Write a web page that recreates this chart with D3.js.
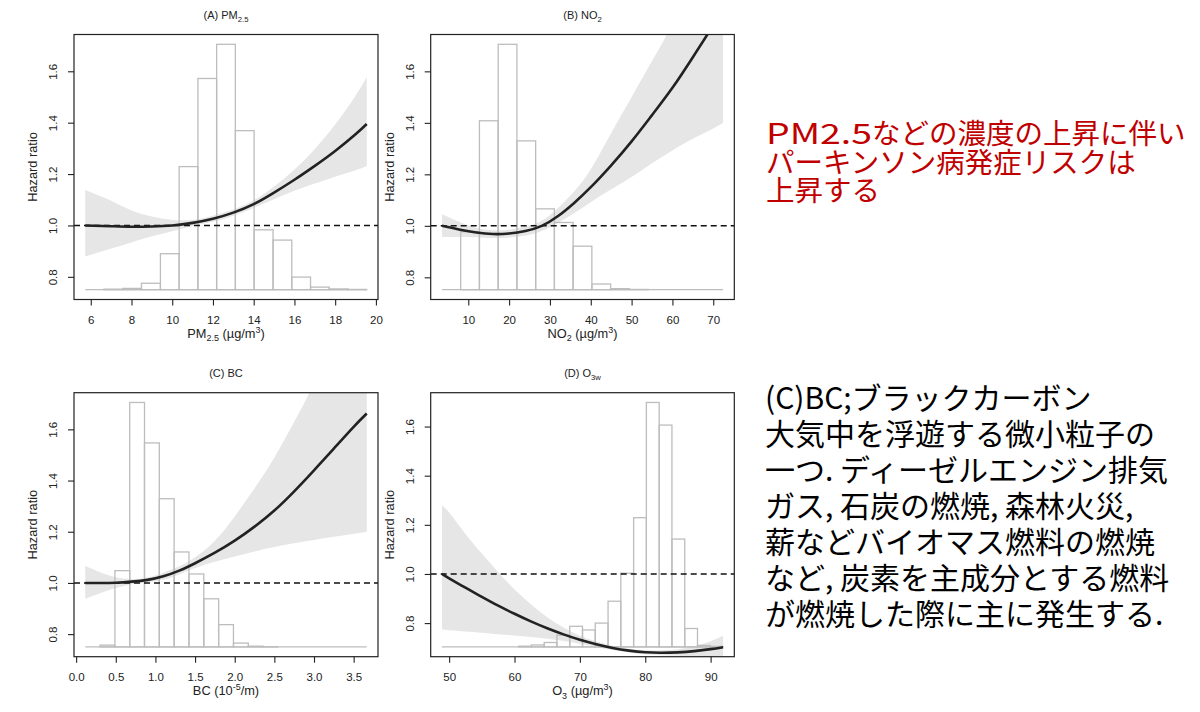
<!DOCTYPE html>
<html>
<head>
<meta charset="utf-8">
<script src="https://cdn.jsdelivr.net/npm/d3@7"></script>
<style>
  body { margin: 0; background: #fff; }
  svg { display: block; }
</style>
</head>
<body>
<svg id="chart" width="1200" height="712"></svg>
<script>
// ---- data ----
const yTicks = [0.8, 1.0, 1.2, 1.4, 1.6];

// (A) PM2.5
const pmX  = [5.73, 7, 8, 9, 10, 11, 12, 13, 14, 15, 16, 17, 18, 19, 19.55];
const pmHr = [1.0, 0.997, 0.995, 0.996, 1.0, 1.01, 1.026, 1.05, 1.083, 1.128, 1.178, 1.232, 1.29, 1.355, 1.395];
const pmLo = [0.879, 0.91, 0.934, 0.958, 0.977, 0.998, 1.014, 1.038, 1.068, 1.102, 1.135, 1.163, 1.19, 1.215, 1.23];
const pmHi = [1.138, 1.096, 1.058, 1.035, 1.022, 1.022, 1.038, 1.062, 1.098, 1.152, 1.218, 1.298, 1.393, 1.505, 1.578];
const pmBreaks = [5.73, 6.65, 7.57, 8.49, 9.42, 10.34, 11.26, 12.18, 13.1, 14.02, 14.95, 15.87, 16.79, 17.71, 18.63, 19.55];
const pmHist = [0.75, 0.752, 0.755, 0.775, 0.89, 1.229, 1.572, 1.705, 1.369, 0.983, 0.943, 0.799, 0.76, 0.753, 0.751];
const pmTicks = [6, 8, 10, 12, 14, 16, 18, 20];

// (B) NO2
const noX  = [3.55, 8, 12, 16, 20, 24, 28, 32, 36, 40, 45, 50, 55, 60, 65, 70, 72.4];
const noHr = [1.0, 0.985, 0.974, 0.968, 0.97, 0.98, 1.0, 1.038, 1.09, 1.15, 1.235, 1.328, 1.43, 1.536, 1.655, 1.78, 1.85];
const noLo = [0.957, 0.957, 0.956, 0.953, 0.955, 0.962, 0.98, 1.012, 1.05, 1.092, 1.142, 1.19, 1.243, 1.293, 1.338, 1.378, 1.4];
const noHi = [1.045, 1.014, 0.992, 0.983, 0.985, 0.998, 1.02, 1.069, 1.135, 1.22, 1.36, 1.5, 1.64, 1.79, 2.02, 2.28, 2.44];
const noBreaks = [3.55, 8.14, 12.73, 17.32, 21.91, 26.5, 31.09, 35.68, 40.27, 44.86, 49.45, 54.04, 58.63, 63.22, 67.81, 72.4];
const noHist = [0.752, 0.977, 1.408, 1.705, 1.33, 1.066, 1.013, 0.921, 0.774, 0.756, 0.753, 0.752, 0.752, 0.752, 0.752];
const noTicks = [10, 20, 30, 40, 50, 60, 70];

// (C) BC
const bcX  = [0.115, 0.3, 0.5, 0.7, 0.9, 1.1, 1.3, 1.5, 1.75, 2.0, 2.25, 2.5, 2.75, 3.0, 3.25, 3.5, 3.665];
const bcHr = [1.0, 1.0, 1.001, 1.005, 1.012, 1.026, 1.048, 1.077, 1.118, 1.165, 1.22, 1.283, 1.358, 1.44, 1.525, 1.61, 1.662];
const bcLo = [0.938, 0.96, 0.98, 0.995, 1.003, 1.012, 1.033, 1.058, 1.083, 1.103, 1.123, 1.14, 1.155, 1.168, 1.18, 1.192, 1.2];
const bcHi = [1.066, 1.042, 1.022, 1.015, 1.021, 1.04, 1.065, 1.1, 1.165, 1.26, 1.37, 1.49, 1.63, 1.78, 1.97, 2.17, 2.3];
const bcBreaks = [0.115, 0.302, 0.489, 0.676, 0.862, 1.049, 1.236, 1.423, 1.61, 1.797, 1.984, 2.171, 2.358, 2.545, 2.731, 2.918, 3.105, 3.292, 3.478, 3.665];
const bcHist = [0.75, 0.757, 1.048, 1.705, 1.547, 1.329, 1.121, 1.035, 0.938, 0.837, 0.765, 0.753, 0.751, 0.75, 0.75, 0.75, 0.75, 0.75, 0.75];
const bcTicks = [0, 0.5, 1.0, 1.5, 2.0, 2.5, 3.0, 3.5];

// (D) O3w
const o3X  = [48.9, 50, 52.5, 55, 57.5, 60, 62.5, 65, 67.5, 70, 72.5, 75, 77.5, 80, 82.5, 85, 87.5, 90, 91.9];
const o3Hr = [1.0, 0.982, 0.944, 0.907, 0.871, 0.838, 0.807, 0.779, 0.754, 0.732, 0.714, 0.699, 0.688, 0.681, 0.679, 0.681, 0.686, 0.694, 0.702];
const o3Lo = [0.775, 0.771, 0.766, 0.761, 0.755, 0.749, 0.743, 0.736, 0.727, 0.716, 0.703, 0.69, 0.68, 0.673, 0.669, 0.667, 0.665, 0.662, 0.659];
const o3Hi = [1.28, 1.25, 1.163, 1.083, 1.007, 0.937, 0.877, 0.824, 0.782, 0.748, 0.725, 0.708, 0.696, 0.69, 0.689, 0.694, 0.706, 0.726, 0.748];
const o3Breaks = [48.9, 50.85, 52.81, 54.76, 56.72, 58.67, 60.63, 62.58, 64.54, 66.49, 68.45, 70.4, 72.35, 74.31, 76.26, 78.22, 80.17, 82.13, 84.08, 86.04, 87.99, 89.95, 91.9];
const o3Hist = [0.703, 0.703, 0.703, 0.703, 0.703, 0.703, 0.706, 0.711, 0.721, 0.751, 0.787, 0.772, 0.80, 0.889, 1.003, 1.229, 1.698, 1.606, 1.142, 0.778, 0.709, 0.705];
const o3Ticks = [50, 60, 70, 80, 90];

// right-hand notes
const redLead = "PM2.5";
const redLines = ["などの濃度の上昇に伴い", "パーキンソン病発症リスクは", "上昇する"];
const blackLines = [
  "(C)BC;ブラックカーボン",
  "大気中を浮遊する微小粒子の",
  "一つ. ディーゼルエンジン排気",
  "ガス, 石炭の燃焼, 森林火災,",
  "薪などバイオマス燃料の燃焼",
  "など, 炭素を主成分とする燃料",
  "が燃焼した際に主に発生する."
];

// ---- layout ----
const boxes = [
  { x0: 74,    y0: 34.5,  x1: 378,   y1: 299.5 },
  { x0: 430.7, y0: 34.5,  x1: 734.3, y1: 299.5 },
  { x0: 74,    y0: 392.7, x1: 378,   y1: 656.7 },
  { x0: 430.7, y0: 392.7, x1: 734.3, y1: 656.7 }
];

const panels = [
  { id: "a", x: pmX, hr: pmHr, lo: pmLo, hi: pmHi, breaks: pmBreaks, hist: pmHist, ticks: pmTicks, fmt: d3.format("d"),
    title: [["(A) PM"], ["2.5", "sub"]], xlab: [["PM"], ["2.5", "sub"], [" (µg/m"], ["3", "sup"], [")"]] },
  { id: "b", x: noX, hr: noHr, lo: noLo, hi: noHi, breaks: noBreaks, hist: noHist, ticks: noTicks, fmt: d3.format("d"),
    title: [["(B) NO"], ["2", "sub"]], xlab: [["NO"], ["2", "sub"], [" (µg/m"], ["3", "sup"], [")"]] },
  { id: "c", x: bcX, hr: bcHr, lo: bcLo, hi: bcHi, breaks: bcBreaks, hist: bcHist, ticks: bcTicks, fmt: d3.format(".1f"),
    title: [["(C) BC"]], xlab: [["BC (10"], ["-5", "sup"], ["/m)"]] },
  { id: "d", x: o3X, hr: o3Hr, lo: o3Lo, hi: o3Hi, breaks: o3Breaks, hist: o3Hist, ticks: o3Ticks, fmt: d3.format("d"),
    title: [["(D) O"], ["3w", "sub"]], xlab: [["O"], ["3", "sub"], [" (µg/m"], ["3", "sup"], [")"]] }
];

const svg = d3.select("#chart");
const FONT = "'Liberation Sans', Arial, Helvetica, sans-serif";

// R style 4% padding of the axis range
function pad(ext) {
  const d = (ext[1] - ext[0]) * 0.04;
  return [ext[0] - d, ext[1] + d];
}

// text with sub/superscripts
function rich(sel, parts, size) {
  let off = 0;
  parts.forEach(([s, k]) => {
    const target = k === "sub" ? size * 0.3 : k === "sup" ? -size * 0.36 : 0;
    sel.append("tspan")
      .attr("dy", target - off)
      .attr("font-size", k ? size * 0.7 : size)
      .text(s);
    off = target;
  });
}

panels.forEach((p, i) => {
  const b = boxes[i];
  const x = d3.scaleLinear().domain(pad(d3.extent(p.breaks))).range([b.x0, b.x1]);
  const y = d3.scaleLinear().domain(pad(d3.extent(p.hist))).range([b.y1, b.y0]);
  const base = d3.min(p.hist);

  svg.append("clipPath").attr("id", "clip-" + p.id)
    .append("rect")
    .attr("x", b.x0).attr("y", b.y0)
    .attr("width", b.x1 - b.x0).attr("height", b.y1 - b.y0);

  const g = svg.append("g").attr("clip-path", `url(#clip-${p.id})`);
  const pts = p.x.map((v, j) => ({ x: v, hr: p.hr[j], lo: p.lo[j], hi: p.hi[j] }));

  // confidence band
  g.append("path")
    .datum(pts)
    .attr("fill", "#e6e6e6")
    .attr("d", d3.area().curve(d3.curveNatural)
      .x(d => x(d.x)).y0(d => y(d.lo)).y1(d => y(d.hi)));

  // histogram of exposure (empty bins show as the base line)
  g.append("line")
    .attr("x1", x(p.breaks[0])).attr("x2", x(p.breaks[p.breaks.length - 1]))
    .attr("y1", y(base)).attr("y2", y(base))
    .attr("stroke", "#bdbdbd").attr("stroke-width", 1.3);

  g.selectAll("rect.bin")
    .data(p.hist)
    .join("rect")
    .attr("class", "bin")
    .attr("x", (d, j) => x(p.breaks[j]))
    .attr("width", (d, j) => x(p.breaks[j + 1]) - x(p.breaks[j]))
    .attr("y", d => y(d))
    .attr("height", d => y(base) - y(d))
    .attr("fill", "none")
    .attr("stroke", "#bdbdbd")
    .attr("stroke-width", 1.3);

  // reference line HR = 1
  g.append("line")
    .attr("x1", b.x0).attr("x2", b.x1)
    .attr("y1", y(1)).attr("y2", y(1))
    .attr("stroke", "#111")
    .attr("stroke-width", 1.5)
    .attr("stroke-dasharray", "6,4");

  // hazard ratio curve
  g.append("path")
    .datum(pts)
    .attr("fill", "none")
    .attr("stroke", "#222")
    .attr("stroke-width", 2.6)
    .attr("d", d3.line().curve(d3.curveNatural).x(d => x(d.x)).y(d => y(d.hr)));

  // frame
  svg.append("rect")
    .attr("x", b.x0).attr("y", b.y0)
    .attr("width", b.x1 - b.x0).attr("height", b.y1 - b.y0)
    .attr("fill", "none").attr("stroke", "#222").attr("stroke-width", 1.2);

  // x axis
  const xa = svg.append("g")
    .attr("transform", `translate(0,${b.y1})`)
    .call(d3.axisBottom(x).tickValues(p.ticks).tickFormat(p.fmt).tickSize(6).tickPadding(10));
  xa.select(".domain").remove();
  xa.selectAll("line").attr("stroke", "#222").attr("stroke-width", 1.1);
  xa.selectAll("text").attr("font-family", FONT).attr("font-size", 11.5).attr("fill", "#222");

  // y axis, labels turned like R's las = 0
  const ya = svg.append("g")
    .attr("transform", `translate(${b.x0},0)`)
    .call(d3.axisLeft(y).tickValues(yTicks).tickFormat(d3.format(".1f")).tickSize(6));
  ya.select(".domain").remove();
  ya.selectAll("line").attr("stroke", "#222").attr("stroke-width", 1.1);
  ya.selectAll("text")
    .attr("x", null).attr("dy", null)
    .attr("text-anchor", "middle")
    .attr("transform", "translate(-16.7,0) rotate(-90)")
    .attr("font-family", FONT).attr("font-size", 11.5).attr("fill", "#222");

  // titles and axis labels
  const cx = (b.x0 + b.x1) / 2;
  const t = svg.append("text")
    .attr("x", cx).attr("y", b.y0 - 16)
    .attr("text-anchor", "middle")
    .attr("font-family", FONT).attr("fill", "#222");
  rich(t, p.title, 11);

  const xl = svg.append("text")
    .attr("x", cx).attr("y", b.y1 + 38)
    .attr("text-anchor", "middle")
    .attr("font-family", FONT).attr("fill", "#222");
  rich(xl, p.xlab, 12.8);

  svg.append("text")
    .attr("transform", `translate(${b.x0 - 36.7},${(b.y0 + b.y1) / 2}) rotate(-90)`)
    .attr("text-anchor", "middle")
    .attr("font-family", FONT).attr("font-size", 12.8).attr("fill", "#222")
    .text("Hazard ratio");
});

// notes on the right
const JP = "'Noto Sans CJK JP', 'Noto Sans', sans-serif";
svg.append("g").selectAll("text")
  .data(redLines)
  .join("text")
  .attr("x", 766)
  .attr("y", (d, i) => 144 + i * 28.5)
  .attr("font-family", JP).attr("font-size", 28.5)
  .attr("fill", "#c00000")
  .each(function (d, i) {
    const t = d3.select(this);
    if (i === 0) {
      t.append("tspan").attr("textLength", 106).attr("lengthAdjust", "spacingAndGlyphs").text(redLead);
    }
    t.append("tspan").text(d);
  });

svg.append("g").selectAll("text")
  .data(blackLines)
  .join("text")
  .attr("x", 765)
  .attr("y", (d, i) => 409 + i * 36)
  .attr("font-family", JP).attr("font-size", 30)
  .attr("fill", "#000")
  .text(d => d);
</script>
</body>
</html>
